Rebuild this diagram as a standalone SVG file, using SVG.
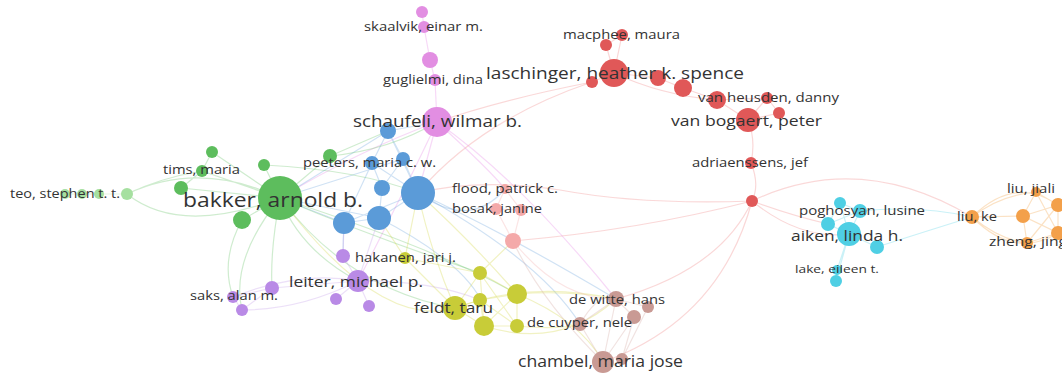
<svg xmlns="http://www.w3.org/2000/svg" width="1062" height="374" viewBox="0 0 1062 374">
<style>
text{font-family:"Open Sans","Noto Sans","DejaVu Sans",sans-serif;fill:#333}
.s{font-size:12.5px}.m{font-size:15px}.l{font-size:16.5px}.xl{font-size:20px}
.e{fill:none;stroke-width:1.2;stroke-opacity:0.33}
.eg{stroke:#6cc56c}.eb{stroke:#6fa6dd}.ep{stroke:#e88be8}.er{stroke:#f08a8a}.ey{stroke:#d6d84a}.epu{stroke:#c4a0ea}.ec{stroke:#5fd6e8}.eo{stroke:#f4a650}.ebr{stroke:#d4a9a4}.elp{stroke:#f4b0b0}.elg{stroke:#b0e4a8}
.g{fill:#5dbd5d}.b{fill:#5b9bd8}.p{fill:#e28ee2}.r{fill:#e05858}.y{fill:#c8cc38}.pu{fill:#b98ae6}.c{fill:#4fcfe4}.o{fill:#f3a04a}.br{fill:#c99a94}.lp{fill:#f4a9a9}.lg{fill:#a6e0a0}
</style>
<rect width="1062" height="374" fill="#fff"/>
<g id="connectors">
<!-- red cluster -->
<path class="e er" d="M614 73 L606 45 L622 35 M614 73 L622 35 M614 73 L592 82 M614 73 L658 78 L683 88 L717 100 L748 120 M614 73 Q660 95 717 100 M748 120 L767 98 L779 113 M748 120 L779 113 M717 100 L767 98 M748 120 Q756 140 751 163 Q760 185 752 201"/>
<path class="e er" d="M592 82 Q480 120 418 193"/>
<path class="e er" d="M592 82 Q500 100 437 122"/>
<path class="e er" d="M752 201 Q640 205 560 190 Q480 178 418 193"/>
<path class="e er" d="M752 201 Q720 270 616 299"/>
<path class="e er" d="M752 201 Q720 320 603 362"/>
<path class="e er" d="M752 201 Q860 150 972 217"/>
<path class="e er" d="M752 201 Q790 215 828 224"/>
<path class="e er" d="M752 201 Q800 240 849 234"/>
<path class="e er" d="M752 201 Q640 230 513 241"/>
<!-- pink -->
<path class="e ep" d="M422 12 L424 27 L430 60 L435 80 L437 122"/>
<path class="e ep" d="M437 122 Q520 180 616 299"/>
<path class="e ep" d="M437 122 Q490 170 505 189"/>
<path class="e ep" d="M437 122 Q400 200 358 281"/>
<path class="e ep" d="M437 122 Q360 150 280 198"/>
<path class="e ep" d="M437 122 L418 193"/>
<!-- blue -->
<path class="e eb" d="M388 131 L437 122 M388 131 L418 193 M388 131 L372 163 L382 188 M388 131 L403 159 L418 193 M372 163 L418 193 M403 159 L382 188 M382 188 L379 218 L418 193 M344 223 L379 218 M344 223 L418 193 M372 163 L344 223 M388 131 L280 198 M403 159 L280 198 M344 223 L280 198 M379 218 L280 198"/>
<path class="e eb" d="M418 193 Q470 230 505 189"/>
<path class="e eb" d="M418 193 Q500 230 616 299"/>
<path class="e eb" d="M379 218 Q460 260 481 300"/>
<path class="e eb" d="M344 223 Q343 240 343 256"/>
<path class="e eb" d="M418 193 Q540 260 580 324"/>
<!-- green -->
<path class="e elg" d="M65 194 L82 194 L99 194 L127 194"/>
<path class="e eg" d="M127 194 Q160 178 202 171 M127 194 Q180 236 280 198 M127 194 Q200 160 280 198 M181 188 L280 198 M202 171 L280 198 M212 152 L280 198 M264 165 L280 198 M242 220 L280 198 M330 156 L280 198 M181 188 L202 171 L212 152 M330 156 Q390 150 437 122 M330 156 L388 131 M242 220 Q220 260 233 297"/>
<path class="e eg" d="M280 198 Q380 240 481 273"/>
<path class="e eg" d="M280 198 Q350 290 455 308"/>
<path class="e eg" d="M280 198 Q300 250 358 281"/>
<path class="e eg" d="M280 198 Q270 250 272 288"/>
<path class="e eg" d="M280 198 Q440 250 517 294"/>
<path class="e eg" d="M280 198 Q230 260 242 310"/>
<path class="e eg" d="M264 165 Q360 170 418 193"/>
<!-- purple -->
<path class="e epu" d="M358 281 L343 256 M358 281 L336 299 M358 281 L369 306 M358 281 L272 288 L233 297 L242 310 L272 288 M358 281 Q300 310 242 310 M358 281 Q300 270 233 297 M358 281 L379 218 M343 256 L344 223 M358 281 Q430 280 480 300"/>
<!-- yellow -->
<path class="e ey" d="M405 258 L455 308 M405 258 L480 273 M480 273 L455 308 L480 300 L517 294 L484 326 L455 308 M480 273 L517 294 M480 273 L484 326 M480 300 L517 326 L484 326 M517 294 L517 326 M480 300 L484 326 M480 273 L517 326"/>
<path class="e ey" d="M405 258 L418 193 M405 258 L379 218 M455 308 Q430 250 418 193 M517 294 Q470 240 418 193 M480 273 L513 241"/>
<path class="e ey" d="M517 294 Q570 290 616 299 M517 326 Q560 330 580 324 M484 326 Q560 350 616 299 M455 308 Q530 280 616 299 M517 294 Q580 320 603 362"/>
<path class="e ey" d="M455 308 Q380 330 280 198"/>
<!-- brown -->
<path class="e ebr" d="M616 299 L648 307 M616 299 L634 317 M616 299 L580 324 M580 324 L603 362 M616 299 L603 362 M634 317 L603 362 M634 317 L622 359 M648 307 L622 359 M580 324 Q600 290 616 299"/>
<path class="e ebr" d="M603 362 Q540 300 513 241"/>
<!-- light pink -->
<path class="e elp" d="M505 189 L496 209 L513 241 L521 210 L505 189 M496 209 L521 210"/>
<path class="e elp" d="M513 241 Q560 300 616 299"/>
<!-- cyan -->
<path class="e ec" d="M849 234 L840 203 L860 211 L849 234 L828 224 L840 203 M849 234 L877 247 M849 234 L837 270 L836 281 M849 234 L836 281 M828 224 L860 211"/>
<path class="e ec" d="M877 247 Q930 230 972 217"/>
<path class="e ec" d="M860 211 Q920 205 972 217"/>
<!-- orange -->
<path class="e eo" d="M972 217 Q1000 195 1036 192 M972 217 L1023 216 M972 217 Q1000 240 1027 243 M972 217 Q1015 175 1058 205 M972 217 Q1015 260 1058 233 M1023 216 L1036 192 L1058 205 L1023 216 L1058 233 L1027 243 L1023 216 M1036 192 L1058 233 M1058 205 L1058 233 M1027 243 L1058 205"/>
</g>
<g id="n-teo"><circle class="lg" cx="65" cy="194" r="5"/><circle class="lg" cx="82" cy="194" r="5"/><circle class="lg" cx="99" cy="194" r="5"/><circle class="lg" cx="127" cy="194" r="6"/><text class="s" x="10" y="198" textLength="110" lengthAdjust="spacingAndGlyphs">teo, stephen t. t.</text></g>
<g id="n-green"><circle class="g" cx="212" cy="152" r="6"/><circle class="g" cx="264" cy="165" r="6"/><circle class="g" cx="181" cy="188" r="7"/><circle class="g" cx="202" cy="171" r="6"/><circle class="g" cx="242" cy="220" r="9"/><circle class="g" cx="330" cy="156" r="7"/><text class="s" x="163" y="174" textLength="77" lengthAdjust="spacingAndGlyphs">tims, maria</text></g>
<g id="n-bakker"><circle class="g" cx="280" cy="198" r="22"/><text class="xl" x="183" y="207" textLength="180" lengthAdjust="spacingAndGlyphs">bakker, arnold b.</text></g>
<g id="n-blue"><circle class="b" cx="388" cy="131" r="8"/><circle class="b" cx="372" cy="163" r="7"/><circle class="b" cx="403" cy="159" r="7"/><circle class="b" cx="382" cy="188" r="8"/><circle class="b" cx="418" cy="193" r="17"/><circle class="b" cx="379" cy="218" r="12"/><circle class="b" cx="344" cy="223" r="11"/><text class="s" x="303" y="167" textLength="133" lengthAdjust="spacingAndGlyphs">peeters, maria c. w.</text></g>
<g id="n-schaufeli"><circle class="p" cx="422" cy="12" r="6"/><circle class="p" cx="424" cy="27" r="6"/><circle class="p" cx="430" cy="60" r="8"/><circle class="p" cx="435" cy="80" r="6"/><circle class="p" cx="437" cy="122" r="15"/><text class="s" x="364" y="31" textLength="119" lengthAdjust="spacingAndGlyphs">skaalvik, einar m.</text><text class="s" x="383" y="84" textLength="100" lengthAdjust="spacingAndGlyphs">guglielmi, dina</text><text class="l" x="353" y="127" textLength="169" lengthAdjust="spacingAndGlyphs">schaufeli, wilmar b.</text></g>
<g id="n-leiter"><circle class="pu" cx="343" cy="256" r="7"/><circle class="pu" cx="358" cy="281" r="11"/><circle class="pu" cx="336" cy="299" r="6"/><circle class="pu" cx="369" cy="306" r="6"/><circle class="pu" cx="272" cy="288" r="7"/><circle class="pu" cx="233" cy="297" r="6"/><circle class="pu" cx="242" cy="310" r="6"/><text class="m" x="289" y="287" textLength="134" lengthAdjust="spacingAndGlyphs">leiter, michael p.</text><text class="s" x="190" y="300" textLength="88" lengthAdjust="spacingAndGlyphs">saks, alan m.</text></g>
<g id="n-feldt"><circle class="y" cx="405" cy="258" r="6"/><circle class="y" cx="480" cy="273" r="7"/><circle class="y" cx="480" cy="300" r="7"/><circle class="y" cx="517" cy="294" r="10"/><circle class="y" cx="455" cy="308" r="12"/><circle class="y" cx="484" cy="326" r="10"/><circle class="y" cx="517" cy="326" r="7"/><text class="s" x="355" y="262" textLength="101" lengthAdjust="spacingAndGlyphs">hakanen, jari j.</text><text class="m" x="414" y="313" textLength="79" lengthAdjust="spacingAndGlyphs">feldt, taru</text></g>
<g id="n-flood"><circle class="lp" cx="505" cy="189" r="5"/><circle class="lp" cx="496" cy="209" r="6"/><circle class="lp" cx="521" cy="210" r="6"/><circle class="lp" cx="513" cy="241" r="8"/><text class="s" x="452" y="193" textLength="106" lengthAdjust="spacingAndGlyphs">flood, patrick c.</text><text class="s" x="452" y="213" textLength="90" lengthAdjust="spacingAndGlyphs">bosak, janine</text></g>
<g id="n-chambel"><circle class="br" cx="616" cy="299" r="8"/><circle class="br" cx="648" cy="307" r="6"/><circle class="br" cx="634" cy="317" r="7"/><circle class="br" cx="580" cy="324" r="7"/><circle class="br" cx="622" cy="359" r="6"/><circle class="br" cx="603" cy="362" r="11"/><text class="s" x="569" y="304" textLength="96" lengthAdjust="spacingAndGlyphs">de witte, hans</text><text class="s" x="527" y="327" textLength="105" lengthAdjust="spacingAndGlyphs">de cuyper, nele</text><text class="l" x="518" y="367" textLength="165" lengthAdjust="spacingAndGlyphs">chambel, maria jose</text></g>
<g id="n-laschinger"><circle class="r" cx="606" cy="45" r="6"/><circle class="r" cx="622" cy="35" r="6"/><circle class="r" cx="592" cy="82" r="6"/><circle class="r" cx="614" cy="73" r="14"/><circle class="r" cx="658" cy="78" r="8"/><circle class="r" cx="683" cy="88" r="9"/><text class="s" x="563" y="39" textLength="117" lengthAdjust="spacingAndGlyphs">macphee, maura</text><text class="l" x="486" y="79" textLength="258" lengthAdjust="spacingAndGlyphs">laschinger, heather k. spence</text></g>
<g id="n-vanbogaert"><circle class="r" cx="717" cy="100" r="9"/><circle class="r" cx="767" cy="98" r="6"/><circle class="r" cx="779" cy="113" r="6"/><circle class="r" cx="748" cy="120" r="12"/><circle class="r" cx="751" cy="163" r="6"/><circle class="r" cx="752" cy="201" r="6"/><text class="s" x="698" y="102" textLength="141" lengthAdjust="spacingAndGlyphs">van heusden, danny</text><text class="m" x="671" y="126" textLength="151" lengthAdjust="spacingAndGlyphs">van bogaert, peter</text><text class="s" x="692" y="167" textLength="116" lengthAdjust="spacingAndGlyphs">adriaenssens, jef</text></g>
<g id="n-aiken"><circle class="c" cx="840" cy="203" r="6"/><circle class="c" cx="860" cy="211" r="7"/><circle class="c" cx="828" cy="224" r="7"/><circle class="c" cx="849" cy="234" r="12"/><circle class="c" cx="877" cy="247" r="7"/><circle class="c" cx="837" cy="270" r="5"/><circle class="c" cx="836" cy="281" r="6"/><text class="s" x="799" y="215" textLength="126" lengthAdjust="spacingAndGlyphs">poghosyan, lusine</text><text class="m" x="791" y="241" textLength="112" lengthAdjust="spacingAndGlyphs">aiken, linda h.</text><text style="font-size:11.5px" x="795" y="273" textLength="84" lengthAdjust="spacingAndGlyphs">lake, eileen t.</text></g>
<g id="n-liu"><circle class="o" cx="972" cy="217" r="7"/><circle class="o" cx="1023" cy="216" r="7"/><circle class="o" cx="1036" cy="192" r="5"/><circle class="o" cx="1058" cy="205" r="7"/><circle class="o" cx="1058" cy="233" r="7"/><circle class="o" cx="1027" cy="243" r="6"/><text class="s" x="1007" y="193" textLength="48" lengthAdjust="spacingAndGlyphs">liu, jiali</text><text class="s" x="957" y="221" textLength="40" lengthAdjust="spacingAndGlyphs">liu, ke</text><text class="s" x="989" y="246" textLength="78" lengthAdjust="spacingAndGlyphs">zheng, jing</text></g>
</svg>
